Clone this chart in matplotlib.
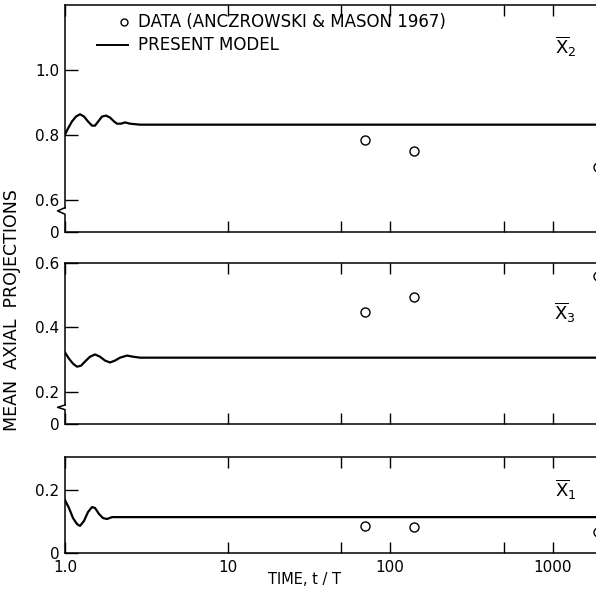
import matplotlib
matplotlib.use('Agg')
import matplotlib.pyplot as plt

plt.rcParams['font.family'] = ['DejaVu Sans']
plt.rcParams['mathtext.fontset'] = 'custom'
plt.rcParams['mathtext.rm'] = 'DejaVu Sans'
plt.rcParams['mathtext.it'] = 'DejaVu Sans'

# ---------------- data ----------------
data_t = [70, 140, 1900]
x2_data = [0.785, 0.75, 0.70]
x3_data = [0.447, 0.494, 0.56]
x1_data = [0.086, 0.083, 0.067]

x2_model_t = [1.0, 1.043, 1.104, 1.169, 1.237, 1.309, 1.385, 1.466, 1.530, 1.619,
              1.689, 1.788, 1.892, 2.002, 2.089, 2.211, 2.340, 2.512, 2.894, 2000]
x2_model = [0.800, 0.819, 0.841, 0.856, 0.863, 0.856, 0.841, 0.828, 0.828, 0.844,
            0.856, 0.859, 0.853, 0.841, 0.834, 0.834, 0.838, 0.834, 0.831, 0.831]

x3_model_t = [1.0, 1.058, 1.120, 1.185, 1.254, 1.328, 1.425, 1.530, 1.642, 1.763,
              1.892, 2.031, 2.180, 2.407, 2.621, 2.894, 2000]
x3_model = [0.322, 0.303, 0.2875, 0.278, 0.281, 0.294, 0.309, 0.316, 0.309, 0.297,
            0.291, 0.297, 0.306, 0.3125, 0.309, 0.306, 0.306]

x1_model_t = [1.0, 1.058, 1.120, 1.185, 1.237, 1.309, 1.385, 1.466, 1.530, 1.619,
              1.713, 1.813, 1.946, 2.180, 2000]
x1_model = [0.168, 0.143, 0.111, 0.092, 0.086, 0.102, 0.130, 0.146, 0.143, 0.124,
            0.111, 0.108, 0.114, 0.114, 0.114]

xtick_vals = [1, 10, 100, 1000]
xtick_labels = ['1.0', '10', '100', '1000']
xminor_vals = [50, 500]

panel_names = [r'$\overline{\mathrm{X}}_2$', r'$\overline{\mathrm{X}}_3$', r'$\overline{\mathrm{X}}_1$']
top_yticks = [0.5, 0.6, 0.8, 1.0]
top_ylabels = ['0', '0.6', '0.8', '1.0']
mid_yticks = [0.1, 0.2, 0.4, 0.6]
mid_ylabels = ['0', '0.2', '0.4', '0.6']
bot_yticks = [0.0, 0.2]
bot_ylabels = ['0', '0.2']

# ---------------- figure ----------------
W, H = 596, 600
fig = plt.figure(figsize=(W / 100, H / 100), dpi=100)

def fx(px):
    return px / W

def fy(py):
    return 1 - py / H

left = fx(65)
width = 1 - left
ax_top = fig.add_axes([left, fy(232), width, fy(5) - fy(232)])
ax_mid = fig.add_axes([left, fy(424), width, fy(263) - fy(424)])
ax_bot = fig.add_axes([left, fy(553), width, fy(457) - fy(553)])

panels = [
    (ax_top, x2_model_t, x2_model, x2_data, (0.5, 1.2), top_yticks, top_ylabels, 0.5625),
    (ax_mid, x3_model_t, x3_model, x3_data, (0.1, 0.6), mid_yticks, mid_ylabels, 0.15),
    (ax_bot, x1_model_t, x1_model, x1_data, (0.0, 0.305), bot_yticks, bot_ylabels, None),
]

for ax, mt, mv, dv, ylim, yt, yl, brk in panels:
    ax.set_xscale('log')
    ax.set_xlim(1, 1850)
    ax.set_ylim(*ylim)
    ax.plot(mt, mv, color='black', lw=1.6, solid_joinstyle='round')
    ax.plot(data_t, dv, 'o', mfc='white', mec='black', ms=6.5, mew=1.0, clip_on=False)
    ax.set_xticks(xtick_vals)
    ax.set_xticks(xminor_vals, minor=True)
    ax.tick_params(axis='x', which='both', direction='in', top=True, bottom=True,
                   length=8, width=1.0)
    ax.tick_params(axis='y', which='both', direction='in', left=True, right=False,
                   length=9, width=1.0, labelsize=11, pad=4)
    ax.set_yticks(yt)
    ax.set_yticklabels(yl)
    ax.spines['right'].set_visible(False)
    for s in ['top', 'bottom', 'left']:
        ax.spines[s].set_linewidth(1.1)
    if ax is ax_bot:
        ax.set_xticklabels(xtick_labels, fontsize=11)
        ax.tick_params(axis='x', pad=5)
    else:
        ax.set_xticklabels([])
    ax.xaxis.set_minor_formatter(plt.NullFormatter())
    if brk is not None:
        span = ylim[1] - ylim[0]
        d = 0.018 * span
        ax.spines['left'].set_bounds(brk + d, ylim[1])
        tr = ax.get_yaxis_transform()
        ax.plot([0, 0, -0.014, 0.0, 0, 0],
                [brk + d, brk + d, brk + 0.2 * d, brk - 0.6 * d, brk - d, ylim[0]],
                color='black', lw=1.1, transform=tr, clip_on=False)

# panel names
fig.text(fx(566), fy(47), panel_names[0], fontsize=13, ha='center', va='center')
fig.text(fx(565), fy(313), panel_names[1], fontsize=13, ha='center', va='center')
fig.text(fx(566), fy(490), panel_names[2], fontsize=13, ha='center', va='center')

# legend
fig.lines.append(plt.Line2D([fx(124)], [fy(22)], marker='o', mfc='white', mec='black',
                            ms=5, mew=1.0, ls='none', transform=fig.transFigure))
fig.text(fx(138), fy(22), 'DATA (ANCZROWSKI & MASON 1967)', fontsize=12, va='center', ha='left')
fig.lines.append(plt.Line2D([fx(97), fx(128)], [fy(45), fy(45)], color='black', lw=1.4,
                            transform=fig.transFigure))
fig.text(fx(138), fy(45), 'PRESENT MODEL', fontsize=12, va='center', ha='left')

# axis labels
fig.text(fx(12), fy(310), 'MEAN  AXIAL  PROJECTIONS', rotation=90, fontsize=12.5,
         ha='center', va='center')
fig.text(fx(305), fy(579), 'TIME, t / T', fontsize=10.5, ha='center', va='center')

fig.savefig('out.png', dpi=100, facecolor='white')
